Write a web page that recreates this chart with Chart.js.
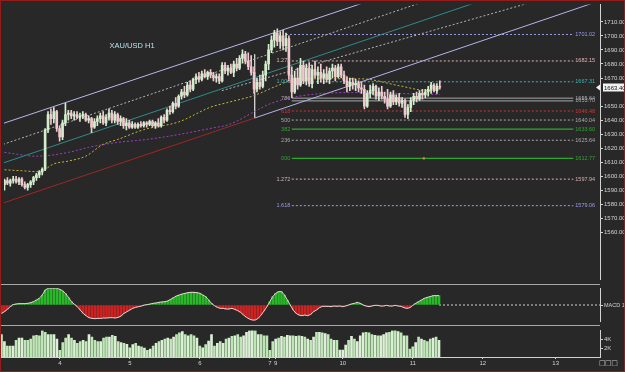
<!DOCTYPE html>
<html>
<head>
<meta charset="utf-8">
<script src="https://cdn.jsdelivr.net/npm/chart.js@4.4.1/dist/chart.umd.min.js"></script>
<style>
  html, body { margin: 0; padding: 0; background: #282828; }
  #wrap { position: relative; width: 625px; height: 372px; overflow: hidden; background: #282828; }
  #wrap canvas { position: absolute; left: 0; }
  .sep { position: absolute; left: 0; width: 600px; height: 1px; background: #a8a8a8; }
  #frame { position: absolute; left: 0; top: 0; width: 625px; height: 372px; box-sizing: border-box; border: 1px solid #961c1c; pointer-events: none; }
  #corner { position: absolute; left: 599px; top: 359px; font: 7px "DejaVu Sans", sans-serif; color: #c8c8c8; letter-spacing: -0.5px; }
</style>
</head>
<body>
<div id="wrap">
  <canvas id="priceChart" width="625" height="284" style="top:0"></canvas>
  <canvas id="macdChart" width="625" height="42" style="top:284px"></canvas>
  <canvas id="volChart" width="625" height="46" style="top:326px"></canvas>
  <div class="sep" style="top:284px"></div>
  <div class="sep" style="top:325px"></div>
  <div id="corner">□□□</div>
  <div id="frame"></div>
</div>
<script>
// XAU/USD hourly bars (bar index 0 = first bar on the left)
const opens = [
  1594,1597,1595,1597,1598,1596,1598,1594,1592,1594,
  1596,1599,1601,1603,1605,1633,1644,1641,1646,1634,
  1628,1638,1644,1645,1643,1644,1642,1643,1644,1640,
  1641,1635,1639,1641,1643,1638,1642,1645,1640,1644,
  1639,1641,1636,1638,1635,1637,1635,1637,1636,1638,
  1637,1639,1636,1638,1636,1642,1640,1647,1646,1652,
  1650,1657,1660,1658,1665,1662,1669,1671,1669,1673,
  1671,1674,1672,1670,1671,1668,1679,1675,1677,1674,
  1680,1677,1684,1687,1682,1678,1674,1662,1667,1664,
  1672,1680,1690,1697,1702,1696,1700,1693,1698,1672,
  1660,1670,1665,1679,1668,1677,1666,1676,1672,1674,
  1670,1673,1669,1675,1677,1671,1678,1672,1668,1664,
  1667,1665,1666,1663,1662,1650,1659,1661,1664,1657,
  1660,1657,1655,1650,1658,1653,1656,1652,1654,1644,
  1649,1654,1657,1655,1659,1658,1660,1662,1665,1661,
  1664
];
const highs = [
  1598,1599,1598,1600,1600,1599,1599,1596,1595,1597,
  1600,1602,1604,1606,1634,1646,1648,1649,1647,1636,
  1640,1652,1647,1647,1646,1646,1645,1646,1645,1643,
  1642,1641,1643,1645,1646,1644,1648,1647,1646,1645,
  1643,1642,1641,1640,1639,1638,1638,1639,1639,1639,
  1640,1640,1639,1641,1643,1644,1648,1650,1653,1656,
  1658,1662,1664,1667,1668,1670,1673,1674,1675,1676,
  1675,1676,1674,1673,1673,1681,1681,1679,1680,1682,
  1684,1686,1690,1689,1688,1686,1678,1670,1672,1675,
  1682,1694,1700,1704,1705,1703,1704,1702,1700,1678,
  1675,1677,1684,1682,1680,1681,1679,1682,1678,1680,
  1676,1678,1677,1680,1679,1680,1680,1675,1671,1670,
  1670,1669,1668,1667,1665,1661,1665,1666,1665,1663,
  1664,1660,1662,1660,1661,1658,1659,1656,1655,1651,
  1656,1659,1660,1661,1662,1662,1664,1667,1666,1666,
  1668
];
const lows = [
  1590,1594,1593,1595,1595,1594,1593,1591,1590,1592,
  1594,1597,1599,1601,1604,1631,1637,1638,1632,1625,
  1626,1636,1640,1641,1640,1641,1639,1641,1639,1638,
  1631,1634,1636,1638,1637,1636,1640,1638,1638,1637,
  1636,1634,1633,1634,1634,1634,1634,1635,1635,1635,
  1636,1635,1634,1635,1635,1638,1639,1644,1645,1648,
  1649,1655,1656,1657,1660,1661,1666,1667,1668,1670,
  1669,1670,1668,1667,1666,1667,1673,1672,1673,1671,
  1675,1676,1681,1680,1676,1672,1659,1660,1662,1663,
  1668,1676,1688,1692,1693,1691,1690,1689,1668,1656,
  1659,1662,1664,1666,1665,1664,1663,1670,1666,1667,
  1666,1667,1666,1670,1668,1670,1670,1666,1660,1661,
  1662,1661,1660,1659,1648,1649,1656,1658,1655,1654,
  1655,1652,1648,1649,1651,1651,1650,1649,1642,1641,
  1646,1651,1653,1654,1655,1656,1657,1659,1660,1659,
  1662
];
const closes = [
  1597,1595,1597,1598,1596,1598,1594,1592,1594,1596,
  1599,1601,1603,1605,1633,1644,1641,1646,1634,1628,
  1638,1644,1645,1643,1644,1642,1643,1644,1640,1641,
  1635,1639,1641,1643,1638,1642,1645,1640,1644,1639,
  1641,1636,1638,1635,1637,1635,1637,1636,1638,1637,
  1639,1636,1638,1636,1642,1640,1647,1646,1652,1650,
  1657,1660,1658,1665,1662,1669,1671,1669,1673,1671,
  1674,1672,1670,1671,1668,1679,1675,1677,1674,1680,
  1677,1684,1687,1682,1678,1674,1662,1667,1664,1672,
  1680,1690,1697,1702,1696,1700,1693,1698,1672,1660,
  1670,1665,1679,1668,1677,1666,1676,1672,1674,1670,
  1673,1669,1675,1677,1671,1678,1672,1668,1664,1667,
  1665,1666,1663,1662,1650,1659,1661,1664,1657,1660,
  1657,1655,1650,1658,1653,1656,1652,1654,1644,1649,
  1654,1657,1655,1659,1658,1660,1662,1665,1661,1664,
  1663.4
];
const lastPrice = 1663.40;

// moving averages (sampled points along the dotted lines)
const yellowMaIdx = [0, 6, 12, 17, 22, 28, 34, 39, 48, 60, 71, 77, 86, 94, 101, 113, 123, 136, 146, 150];
const yellowMa = [1604.6, 1603.9, 1603.2, 1608.8, 1610.8, 1614.3, 1622.7, 1626.2, 1633.2, 1638.7,
                  1649.2, 1652.6, 1657.5, 1664.5, 1669.4, 1669.4, 1669.4, 1664.5, 1661.0, 1662.4];
const purpleMaIdx = [0, 11, 22, 29, 39, 49, 60, 72, 77, 92, 103, 120, 137, 150];
const purpleMa = [1617.0, 1614.3, 1617.0, 1620.6, 1624.1, 1626.2, 1629.7, 1634.5, 1636.6, 1652.0,
                  1657.5, 1659.6, 1658.9, 1658.2];

// channel / pitchfork lines, [bar index, price] end points
const chanTop = [[-0.5, 1637.6], [123.9, 1723.7]];
const chanUpperDots = [[-0.5, 1622.7], [143.5, 1723.7]];
const chanMid = [[-0.5, 1609.4], [162.3, 1723.7]];
const forkDots = [[74.9, 1661.0], [181.2, 1723.7]];
const forkLower = [[86.2, 1641.5], [205.2, 1725.1]];
const chanBottom = [[-0.5, 1580.9], [86.2, 1641.5]];
const forkHandle = [[86.2, 1686.8], [86.2, 1641.5]];

// fibonacci levels
const fibLevels = [1701.02, 1682.15, 1667.31, 1655.64, 1653.70, 1646.48, 1640.04, 1633.60, 1625.64, 1612.77, 1597.94, 1579.06];
const fibNames = ['', '1.272', '1.000', '786', '', '618', '500', '382', '236', '000', '1.272', '1.618'];
const fibMarkers = [[98.6, 1667.31], [144.5, 1612.77]];

// MACD histogram and volume (thousands)
const macdHist = [
  -2.5,-2.0,-1.3,-0.5,0.1,0.3,0.4,0.4,0.4,0.5,
  0.7,1.0,1.5,2.0,3.0,4.5,5.0,5.0,5.0,5.0,
  4.7,4.2,3.4,2.2,1.0,0.2,-0.5,-1.5,-2.5,-3.2,
  -3.8,-4.0,-4.1,-4.0,-4.0,-3.9,-3.9,-3.8,-3.8,-3.9,
  -3.7,-3.3,-2.5,-2.0,-1.5,-1.0,-0.7,-0.5,-0.3,0,
  0.1,0.3,0.5,0.6,0.8,0.9,1.0,1.2,1.7,2.2,
  2.7,3.0,3.3,3.5,3.7,3.8,3.8,3.7,3.5,3.0,
  2.5,1.5,0.5,-0.2,-0.7,-1.0,-1.0,-1.2,-1.2,-1.0,
  -1.3,-1.7,-2.2,-3.0,-3.7,-4.2,-4.5,-4.5,-4.0,-3.0,
  -1.8,-0.5,1.0,2.5,3.5,4.0,4.0,3.0,1.5,0,
  -1.5,-2.5,-3.0,-3.2,-3.0,-3.2,-2.8,-2.0,-1.5,-0.8,
  -0.4,-0.4,-0.4,-0.5,-0.3,-0.4,-0.3,-0.5,-0.3,0,
  0.3,0.5,0.8,0.5,0,-0.3,-0.5,-0.3,-0.1,-0.1,
  -0.3,-0.3,-0.1,-0.3,-0.3,-0.1,-0.3,-0.4,-0.8,-1.0,
  -0.8,-0.1,0.5,1.0,1.5,2.0,2.3,2.5,2.8,2.8,
  2.8
];
const volumesK = [
  5.1,3.5,2.5,2.5,2.5,3.8,4.3,4.3,3.8,3.8,
  4.1,4.8,4.9,4.8,6.0,5.6,5.1,5.1,5.1,4.1,
  1.5,3.3,4.3,5.1,4.3,3.8,3.1,3.5,3.8,3.5,
  5.1,4.5,3.8,3.5,3.5,4.3,4.5,4.5,4.9,4.7,
  3.5,3.3,3.1,2.9,2.1,2.8,3.1,2.5,2.3,2.0,
  1.5,1.8,2.5,3.1,3.5,3.8,4.1,4.3,4.1,4.5,
  5.1,5.5,5.8,5.1,4.8,5.1,4.8,4.3,2.5,2.1,
  2.8,3.6,5.1,2.5,3.1,3.5,3.1,4.1,4.3,4.7,
  4.8,5.1,4.5,4.8,5.6,6.0,6.1,6.0,5.1,5.1,
  4.8,4.8,1.5,3.5,4.1,4.3,4.7,4.5,4.9,4.8,
  4.8,4.7,4.8,4.7,4.5,4.1,3.8,4.5,5.6,5.6,
  5.5,5.3,5.1,4.1,3.8,3.8,1.6,1.6,2.7,3.8,
  4.7,4.1,3.5,4.8,5.5,5.6,5.5,5.1,4.9,4.8,
  4.8,5.1,5.5,5.6,6.0,6.1,5.8,5.5,4.8,4.8,
  1.8,2.3,3.3,4.5,4.1,3.8,3.5,4.1,4.3,4.5,
  3.8
];

// axes
const priceTicks = [1560, 1570, 1580, 1590, 1600, 1610, 1620, 1630, 1640, 1650, 1670, 1680, 1690, 1700, 1710];
const volTicks = [2, 4];
const dayLabels = ['4', '5', '6', '7', '9', '10', '11', '12', '13'];
const dayIdx = [20, 44, 68, 92, 94, 117, 141, 165, 190];
const chartTitle = 'XAU/USD H1';
const titleAt = [36.2, 1693.1];

const FONT = '"Liberation Sans", Arial, sans-serif';
const AXIS = '#d2d2d2';
const X_MIN = -0.17, X_MAX = 205.2;
const FIB_START = 99, FIB_END = 196;
const fibColors = ['#9c9ce6', '#e0b4b4', '#3cb6b6', '#a8a8a8', '#a8a8a8', '#d03434',
                   '#a8a8a8', '#2ea82e', '#a8a8a8', '#2ea82e', '#d8b0b0', '#9c9ce6'];
const fibSolid = [false, false, false, true, true, false, false, true, false, true, false, false];

Chart.defaults.font.family = FONT;
Chart.defaults.animation = false;

function seg(points, color, dash, width, order) {
    return {
        type: 'line',
        data: points.map(p => ({ x: p[0], y: p[1] })),
        borderColor: color,
        borderWidth: width || 1,
        borderDash: dash || [],
        pointRadius: 0,
        fill: false,
        tension: 0,
        order: order || 5
    };
}

function rightAxis(min, max, ticks, label, fontSize) {
    return {
        position: 'right',
        min: min,
        max: max,
        border: { display: true, color: AXIS },
        grid: { drawOnChartArea: false, drawTicks: true, tickLength: 3, tickColor: AXIS },
        ticks: { color: AXIS, font: { size: fontSize || 6 }, padding: 1, autoSkip: false, callback: label },
        afterBuildTicks: s => { s.ticks = ticks.map(v => ({ value: v })); },
        afterFit: s => { s.width = 25; }
    };
}

const hiddenX = { type: 'linear', min: X_MIN, max: X_MAX, offset: false, display: false, grid: { offset: false } };
const noPlugins = { legend: { display: false }, tooltip: { enabled: false } };

// ---- price panel ----
const candleCols = closes.map((c, i) => c >= opens[i] ? '#d4eecd' : '#f0c8cf');

const fibSets = fibLevels.map((p, k) => seg(
    [[k === 0 ? 97 : FIB_START, p], [FIB_END, p]],
    fibColors[k], fibSolid[k] ? [] : [2, 2], k === 7 || k === 9 ? 1.3 : 1, 6));

const priceOverlay = {
    id: 'priceOverlay',
    afterDatasetsDraw(chart) {
        const { ctx } = chart;
        const x = chart.scales.x, y = chart.scales.y;
        ctx.save();
        ctx.textBaseline = 'middle';
        ctx.font = '7.5px ' + FONT;
        ctx.fillStyle = '#b4e4ee';
        ctx.textAlign = 'left';
        ctx.fillText(chartTitle, x.getPixelForValue(titleAt[0]), y.getPixelForValue(titleAt[1]));

        ctx.font = '5.5px ' + FONT;
        fibLevels.forEach((p, k) => {
            const py = y.getPixelForValue(p);
            ctx.fillStyle = fibColors[k];
            ctx.textAlign = 'left';
            ctx.fillText(p.toFixed(2), x.getPixelForValue(FIB_END) + 2, py);
            if (fibNames[k]) {
                ctx.textAlign = 'right';
                ctx.fillText(fibNames[k], x.getPixelForValue(FIB_START) - 1.5, py);
            }
        });
        ctx.restore();
    },
    afterDraw(chart) {
        const { ctx } = chart;
        const y = chart.scales.y;
        const py = Math.round(y.getPixelForValue(lastPrice)) + 0.5;
        const left = chart.chartArea.right;
        ctx.save();
        ctx.fillStyle = '#f2f2f2';
        ctx.beginPath();
        ctx.moveTo(left - 4, py);
        ctx.lineTo(left, py - 3);
        ctx.lineTo(left, py + 3);
        ctx.closePath();
        ctx.fill();
        ctx.fillRect(left + 3, py - 4, chart.width - left - 3, 8);
        ctx.fillStyle = '#111';
        ctx.font = '6px ' + FONT;
        ctx.textBaseline = 'middle';
        ctx.fillText(lastPrice.toFixed(2), left + 4, py + 0.5);
        ctx.restore();
    }
};

new Chart(document.getElementById('priceChart'), {
    type: 'bar',
    data: {
        datasets: [
            { type: 'bar', data: closes.map((c, i) => ({ x: i, y: [opens[i], c] })), backgroundColor: candleCols,
              barThickness: 2, minBarLength: 1, grouped: false, order: 0 },
            { type: 'bar', data: closes.map((c, i) => ({ x: i, y: [lows[i], highs[i]] })), backgroundColor: candleCols,
              barThickness: 1, grouped: false, order: 1 },
            {
                type: 'line', data: fibMarkers.map(p => ({ x: p[0], y: p[1] })), showLine: false,
                pointStyle: 'rect', pointRadius: 1.5, pointBackgroundColor: ['#e03030', '#e08040'],
                pointBorderWidth: 0, order: 2
            },
            Object.assign(seg(yellowMaIdx.map((v, i) => [v, yellowMa[i]]), '#c8b43c', [2, 2], 1, 4), { cubicInterpolationMode: 'monotone' }),
            Object.assign(seg(purpleMaIdx.map((v, i) => [v, purpleMa[i]]), '#a040c0', [2, 2], 1, 4), { cubicInterpolationMode: 'monotone' }),
            seg(chanTop, '#b8b8ea', [], 1, 5),
            seg(chanUpperDots, '#b4b4b4', [2, 2], 1, 5),
            seg(chanMid, '#2f8c8c', [], 1, 5),
            seg(forkDots, '#b4b4b4', [2, 2], 1, 5),
            seg(forkLower, '#b4b4ea', [], 1, 5),
            seg(chanBottom, '#a02626', [], 1, 5),
            seg(forkHandle, '#d0d0d0', [], 1, 5),
            ...fibSets
        ]
    },
    options: {
        responsive: false,
        devicePixelRatio: 1,
        layout: { padding: { left: 1, top: 2, right: 0, bottom: 1 } },
        plugins: noPlugins,
        scales: {
            x: hiddenX,
            y: rightAxis(1526.5, 1722.3, priceTicks, v => v.toFixed(2))
        }
    },
    plugins: [priceOverlay]
});

// ---- MACD panel ----
new Chart(document.getElementById('macdChart'), {
    type: 'bar',
    data: {
        datasets: [
            { type: 'line', data: macdHist.map((v, i) => ({ x: i, y: v })), borderColor: '#eed8d8', borderWidth: 1,
              pointRadius: 0, tension: 0, order: 0 },
            { type: 'bar', data: macdHist.map((v, i) => ({ x: i, y: v })),
              backgroundColor: macdHist.map(v => v >= 0 ? '#28b828' : '#cc2222'),
              barThickness: 2, grouped: false, order: 1 },
            seg([[150, 0], [X_MAX, 0]], '#cfcfcf', [2, 2], 1, 5)
        ]
    },
    options: {
        responsive: false,
        devicePixelRatio: 1,
        layout: { padding: { left: 1, top: 1, right: 0, bottom: 2 } },
        plugins: noPlugins,
        scales: {
            x: hiddenX,
            y: rightAxis(-5, 5, [0], () => 'MACD 12,26,9', 5.5)
        }
    }
});

// ---- volume panel + time axis ----
new Chart(document.getElementById('volChart'), {
    type: 'bar',
    data: {
        datasets: [{
            data: volumesK.map((v, i) => ({ x: i, y: v })),
            backgroundColor: closes.map((c, i) => c >= opens[i] ? '#bfe6b6' : '#dcf0d6'),
            barThickness: 2
        }]
    },
    options: {
        responsive: false,
        devicePixelRatio: 1,
        layout: { padding: { left: 1, top: 1, right: 0, bottom: 1 } },
        plugins: noPlugins,
        scales: {
            x: {
                type: 'linear', min: X_MIN, max: X_MAX, offset: false,
                border: { display: true, color: AXIS },
                grid: { drawOnChartArea: false, offset: false, tickLength: 2, tickColor: AXIS },
                ticks: { color: AXIS, font: { size: 6 }, padding: 1, autoSkip: false, maxRotation: 0,
                         callback: (v, i) => dayLabels[i] },
                afterBuildTicks: s => { s.ticks = dayIdx.map(v => ({ value: v })); },
                afterFit: s => { s.height = 14; }
            },
            y: rightAxis(0, 6, volTicks, v => v + 'K')
        }
    }
});
</script>
</body>
</html>
